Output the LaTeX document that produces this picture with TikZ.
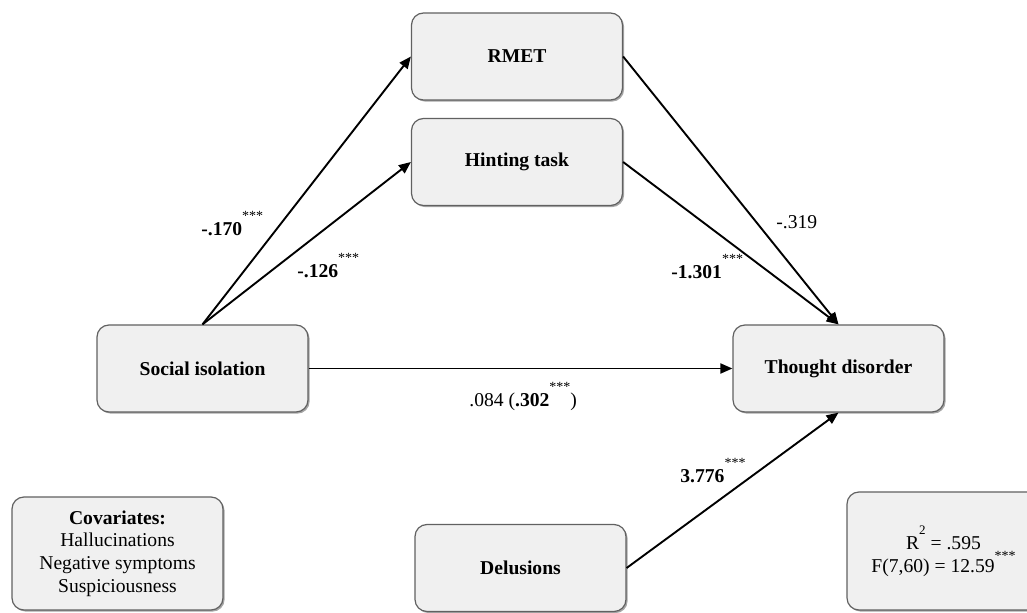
\documentclass[tikz,border=0pt]{standalone}
\usepackage{fontspec}
\setmainfont{Liberation Serif}
\usetikzlibrary{arrows.meta,shadows}
\newcommand\sigstars[1][7.6pt]{\raisebox{#1}{\fontsize{7}{7}\selectfont ***}}
\begin{document}
\begin{tikzpicture}[x=0.5pt,y=-0.5pt,
  box/.style={draw=black!62, line width=0.6pt, fill=black!6, rounded corners=6pt,
    minimum width=105.5pt, minimum height=43.5pt, align=center, inner sep=2pt,
    font=\fontsize{9.8}{11.4}\selectfont,
    drop shadow={shadow xshift=0.8pt, shadow yshift=-0.8pt, opacity=0.35, fill=black}},
  conn/.style={line width=0.95pt, -{Triangle[length=6pt,width=5pt]}},
  lbl/.style={anchor=base west, inner sep=0pt, font=\fontsize{9.8}{11.25}\selectfont}]
\useasboundingbox (0,0) rectangle (1027,613);
\fill[white] (0,0) rectangle (1027,613);

\node[box] (rmet) at (517,56.5) {\bfseries RMET};
\node[box] (hint) at (517,162) {\bfseries Hinting task};
\node[box] (soc) at (202.5,368.5) {\bfseries Social isolation};
\node[box] (td) at (838.5,368.5) {\bfseries Thought disorder};
\node[box] (del) at (520.5,568) {\bfseries Delusions};
\node[box, minimum height=56.5pt] (cov) at (117.5,553.5)
  {\bfseries Covariates:\\Hallucinations\\Negative symptoms\\Suspiciousness};
\node[box, minimum width=96.5pt, minimum height=59pt] (r2) at (943.5,551)
  {R\raisebox{7.5pt}{\fontsize{6.5}{6.5}\selectfont 2} = .595\\F(7,60) = 12.59\sigstars[6pt]};

\draw[conn] (soc.north) -- (rmet.west);
\draw[conn] (soc.north) -- (hint.west);
\draw[conn] (rmet.east) -- (td.north);
\draw[conn] (hint.east) -- (td.north);
\draw[conn] (soc.east) -- (td.west);
\draw[conn] (del.east) -- (td.south);

\node[lbl] (l1) at (201,236) {\textbf{-.170}\sigstars};
\node[lbl] (l2) at (297,278) {\textbf{-.126}\sigstars};
\node[lbl] (l3) at (776,229) {-.319};
\node[lbl] (l4) at (671,279) {\textbf{-1.301}\sigstars};
\node[lbl] (l5) at (469,407) {.084 (\textbf{.302}\sigstars)};
\node[lbl] (l6) at (680,483) {\textbf{3.776}\sigstars};
\end{tikzpicture}
\end{document}
